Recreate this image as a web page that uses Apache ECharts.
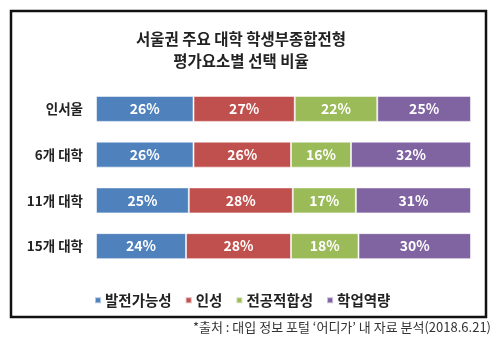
<!DOCTYPE html>
<html>
<head>
<meta charset="utf-8">
<script src="https://cdn.jsdelivr.net/npm/echarts@6/dist/echarts.min.js"></script>
<style>
  html, body { margin: 0; padding: 0; background: #fff; }
  #chart { width: 500px; height: 350px; }
</style>
</head>
<body>
<div id="chart"></div>
<script>
// 평가요소별 선택 비율 (%)
const groups = ['인서울', '6개 대학', '11개 대학', '15개 대학'];
const seriesNames = ['발전가능성', '인성', '전공적합성', '학업역량'];
const growth = [26, 26, 25, 24];      // 발전가능성
const character = [27, 26, 28, 28];   // 인성
const majorFit = [22, 16, 17, 18];    // 전공적합성
const academic = [25, 32, 31, 30];    // 학업역량
const colors = ['#4F81BD', '#C0504D', '#9BBB59', '#8064A2'];

const valueSets = [growth, character, majorFit, academic];
// each row is shown as a 100% stacked bar
const rowTotals = groups.map((_, i) => valueSets.reduce((s, arr) => s + arr[i], 0));

const chart = echarts.init(document.getElementById('chart'), null, { renderer: 'canvas' });
const font = '"Noto Sans CJK KR", "Noto Sans", sans-serif';

chart.setOption({
  animation: false,
  textStyle: { fontFamily: font },
  title: {
    text: '서울권 주요 대학 학생부종합전형\n평가요소별 선택 비율',
    left: 236,
    top: 23,
    textAlign: 'center',
    textStyle: { fontFamily: font, fontSize: 15.5, fontWeight: 'bold', color: '#222', lineHeight: 22 }
  },
  legend: {
    data: seriesNames,
    left: 89,
    top: 288,
    icon: 'rect',
    itemWidth: 6,
    itemHeight: 6,
    itemGap: 13,
    textStyle: { fontFamily: font, fontSize: 14.5, fontWeight: 'bold', color: '#222', padding: [0, 0, 0, -1] }
  },
  grid: { left: 96, right: 29, top: 86, bottom: 81 },
  xAxis: { type: 'value', min: 0, max: 100, show: false },
  yAxis: {
    type: 'category',
    data: groups,
    inverse: true,
    axisLine: { show: false },
    axisTick: { show: false },
    axisLabel: { margin: 13, fontFamily: font, fontSize: 13.5, fontWeight: 'bold', color: '#222' }
  },
  series: valueSets.map((arr, k) => ({
    name: seriesNames[k],
    type: 'bar',
    stack: 'share',
    barWidth: 26,
    itemStyle: { color: colors[k], borderColor: 'rgba(255,255,255,0.55)', borderWidth: 1 },
    label: {
      show: true,
      position: 'inside',
      fontFamily: font,
      fontSize: 14,
      fontWeight: 'bold',
      color: '#fff',
      formatter: p => arr[p.dataIndex] + '%'
    },
    data: arr.map((v, i) => v / rowTotals[i] * 100)
  })),
  graphic: [
    {
      type: 'rect',
      shape: { x: 11, y: 11, width: 475, height: 306 },
      style: { fill: 'none', stroke: '#111', lineWidth: 2.5 },
      silent: true
    },
    {
      type: 'text',
      x: 491,
      y: 327,
      style: {
        text: '*출처 : 대입 정보 포털 ‘어디가’ 내 자료 분석(2018.6.21)',
        textAlign: 'right',
        textVerticalAlign: 'middle',
        font: '13px ' + font,
        fill: '#333'
      }
    }
  ]
});
</script>
</body>
</html>
